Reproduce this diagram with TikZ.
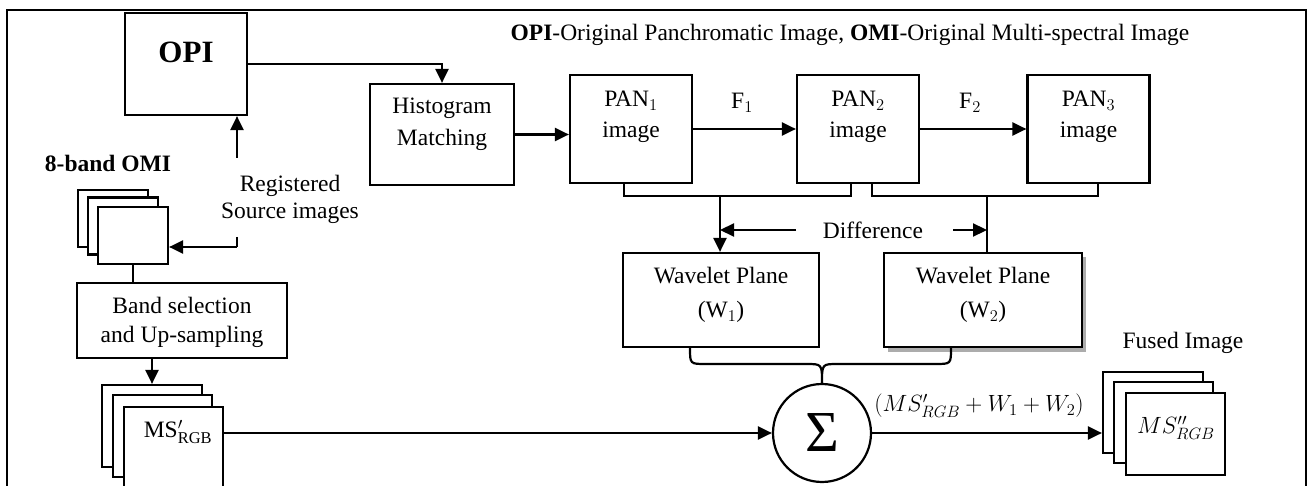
\RequirePackage{fix-cm}
\documentclass[tikz,border=0pt]{standalone}
\usepackage{fontspec}
\setmainfont{Liberation Serif}
\usetikzlibrary{arrows.meta,shadows}
\tikzset{
  box/.style={draw, line width=2.2pt, inner sep=0pt, fill=white},
  txt/.style={inner sep=0pt, align=center},
  arr/.style={line width=2.2pt, -{Triangle[length=14pt,width=13pt]}},
  ln/.style={line width=2.2pt},
}
\begin{document}
\begin{tikzpicture}[x=1pt,y=-1pt,font=\fontsize{23.5}{28}\selectfont]
\useasboundingbox (0,0) rectangle (1309,486);
% frame
\draw[line width=2.4pt] (7,500) -- (7,10) -- (1306,10) -- (1306,500);
% title
\node[txt] (title) at (850,35) {\textbf{OPI}-Original Panchromatic Image, \textbf{OMI}-Original Multi-spectral Image};
% OPI
\node[box, minimum width=122, minimum height=102] (opi) at (186,64) {};
\node[txt] (opit) at (186,52) {\fontsize{31}{35}\selectfont\bfseries OPI};
% Histogram
\node[box, minimum width=144, minimum height=101] (hist) at (442,134.5) {};
\node[txt, font=\fontsize{23.5}{32}\selectfont] (histt) at (442,124) {Histogram\\Matching};
% PAN boxes
\node[box, minimum width=122, minimum height=108] (pan1) at (631,129) {};
\node[box, minimum width=122, minimum height=108] (pan2) at (858,129) {};
\node[box, minimum width=122, minimum height=108] (pan3) at (1088.5,129) {};
\node[txt, font=\fontsize{23.5}{31}\selectfont] (pan1t) at (631,117) {PAN$_1$\\image};
\node[txt, font=\fontsize{23.5}{31}\selectfont] (pan2t) at (858,117) {PAN$_2$\\image};
\node[txt, font=\fontsize{23.5}{31}\selectfont] (pan3t) at (1088.5,117) {PAN$_3$\\image};
\node[txt] (f1) at (742,103) {F$_1$};
\node[txt] (f2) at (970,103) {F$_2$};
% connectors top
\draw[arr] (opi.east) -| (hist.north);
\draw[arr] (hist.east) -- (pan1.west |- hist.east);
\draw[arr] (pan1.east) -- (pan2.west);
\draw[arr] (pan2.east) -- (pan3.west);
% brackets
\coordinate (b1) at (720,196);
\coordinate (b2) at (987,196);
\draw[ln] ([xshift=-7pt]pan1.south) |- (b1) -| ([xshift=-7pt]pan2.south);
\draw[ln] ([xshift=14pt]pan2.south) |- (b2) -| ([xshift=9.5pt]pan3.south);
% wavelet boxes
\node[box, minimum width=196, minimum height=94] (w1) at (721,300) {};
\node[box, minimum width=198, minimum height=94,
  drop shadow={shadow xshift=3.5pt, shadow yshift=-4.5pt, fill=gray!65, opacity=1}] (w2) at (983,300) {};
\node[txt, font=\fontsize{23.5}{34}\selectfont] (w1t) at (721,295) {Wavelet Plane\\(W$_1$)};
\node[txt, font=\fontsize{23.5}{34}\selectfont] (w2t) at (983,295) {Wavelet Plane\\(W$_2$)};
\draw[arr] (b1) -- (b1 |- w1.north);
\draw[ln] (b2) -- (b2 |- w2.north);
% difference
\node[txt] (diff) at (873,230) {Difference};
\coordinate (dl) at (796,230);
\coordinate (dr) at (953,230);
\draw[arr] (dl) -- (b1 |- dl);
\draw[arr] (dr) -- (b2 |- dr);
% sigma
\node[draw, circle, line width=2.2pt, minimum size=98, inner sep=0pt] (sig) at (822,433) {\fontsize{58}{58}\selectfont Σ};
\coordinate (br1) at ([xshift=-31pt]w1.south);
\coordinate (br2) at ([xshift=-32pt]w2.south);
\draw[ln] (br1) .. controls (br1 |- 0,364) .. ([xshift=16pt]br1 |- 0,364) -- (806,364)
  .. controls (822,364) .. (sig.north) .. controls (822,364) .. (838,364)
  -- ([xshift=-16pt]br2 |- 0,364) .. controls (br2 |- 0,364) .. (br2);
% OMI stack
\node[txt] (omit) at (108,163) {\bfseries 8-band OMI};
\node[box, minimum width=70, minimum height=57] (omi3) at (113,218.5) {};
\node[box, minimum width=70, minimum height=57] (omi2) at (123,226) {};
\node[box, minimum width=70, minimum height=57] (omi1) at (133,235.5) {};
% registered
\node[txt, font=\fontsize{23.5}{27}\selectfont] (reg) at (290,199) {Registered\\Source images};
\coordinate (ru) at (237,158);
\draw[arr] (ru) -- (ru |- opi.south);
\coordinate (rd) at (237,237);
\coordinate (rd2) at (237,247);
\draw[ln] (rd) -- (rd2);
\draw[arr] (rd2) -- (omi1.east |- rd2);
% band selection
\node[box, minimum width=210, minimum height=75] (band) at (182,320.5) {};
\node[txt, font=\fontsize{23.5}{29}\selectfont] (bandt) at (182,322) {Band selection\\and Up-sampling};
\draw[ln] (omi1.south) -- (omi1.south |- band.north);
% MS' stack
\node[box, minimum width=100, minimum height=82] (ms3) at (152,426) {};
\node[box, minimum width=99, minimum height=82] (ms2) at (162.5,436) {};
\node[box, minimum width=99, minimum height=82] (ms1) at (173.5,448) {};
\node[txt] (ms1t) at (178,432) {MS$'_{\mathrm{RGB}}$};
\draw[arr] (ms3.north |- band.south) -- (ms3.north);
\draw[arr] (ms1.east |- sig) -- (sig.west);
% fused
\node[txt] (fusedt) at (1183,343) {Fused Image};
\node[box, minimum width=100, minimum height=81] (fu3) at (1153,412.5) {};
\node[box, minimum width=99, minimum height=81] (fu2) at (1163.5,422.5) {};
\node[box, minimum width=99, minimum height=82] (fu1) at (1175.5,434) {};
\node[txt] (fu1t) at (1176,428) {$MS''_{RGB}$};
\draw[arr] (sig.east) -- (fu3.west |- sig);
\node[txt] (form) at (979,406) {$(MS'_{RGB}+W_1+W_2)$};
\end{tikzpicture}
\end{document}
